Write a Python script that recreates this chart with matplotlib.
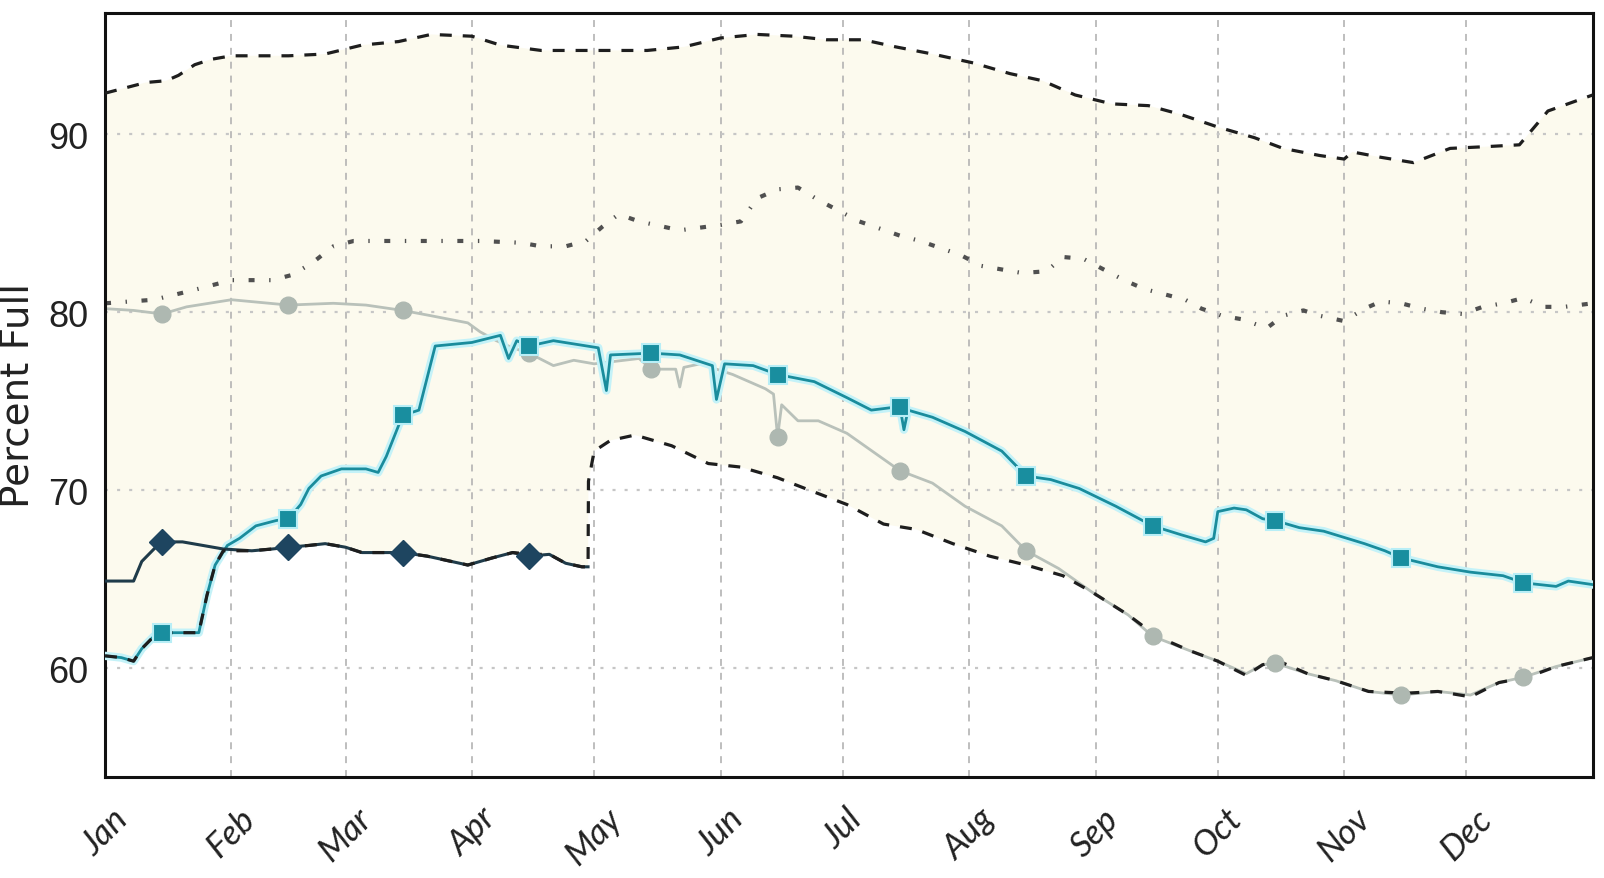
import numpy as np
import matplotlib
matplotlib.use("Agg")
import matplotlib.pyplot as plt

plt.rcParams["lines.scale_dashes"] = False

MONTH_DAYS = [0, 31, 59, 90, 120, 151, 181, 212, 243, 273, 304, 334]
MONTH_LABELS = ["Jan", "Feb", "Mar", "Apr", "May", "Jun", "Jul", "Aug", "Sep", "Oct", "Nov", "Dec"]
MID_MONTH = [14, 45, 73, 104, 134, 165, 195, 226, 257, 287, 318, 348]
Y_TICKS = [60, 70, 80, 90]

# historical maximum (day of year, percent full)
max_days = [0, 10, 15, 18, 22, 26, 31, 36, 45, 54, 63, 72, 80, 90, 97, 107, 115, 124, 133, 142,
            151, 160, 169, 177, 186, 194, 203, 213, 222, 230, 238, 247, 256, 264, 273, 282, 289,
            298, 304, 306, 313, 321, 330, 339, 347, 354, 365]
max_vals = [92.3, 92.9, 93.0, 93.3, 93.9, 94.2, 94.4, 94.4, 94.4, 94.5, 95.0, 95.2, 95.6, 95.5, 95.0,
            94.7, 94.7, 94.7, 94.7, 94.9, 95.4, 95.6, 95.5, 95.3, 95.3, 94.9, 94.5, 94.0, 93.4, 93.0,
            92.2, 91.7, 91.6, 91.1, 90.4, 89.8, 89.2, 88.8, 88.6, 89.0, 88.7, 88.4, 89.2, 89.3, 89.4,
            91.3, 92.2]

# historical average
avg_days = [0, 12, 21, 31, 41, 46, 51, 56, 61, 71, 81, 92, 102, 107, 113, 118, 122, 126, 131, 141,
            151, 156, 160, 165, 170, 175, 180, 185, 190, 195, 200, 210, 215, 220, 225, 231, 235, 240,
            245, 250, 255, 260, 265, 269, 274, 279, 285, 289, 294, 298, 304, 309, 313, 318, 323, 328,
            333, 338, 343, 348, 353, 358, 365]
avg_vals = [80.5, 80.7, 81.2, 81.8, 81.8, 82.1, 82.8, 83.7, 84.0, 84.0, 84.0, 84.0, 83.9, 83.7, 83.7,
            84.0, 84.8, 85.5, 85.1, 84.6, 84.9, 85.1, 86.4, 86.9, 87.0, 86.3, 85.7, 85.1, 84.7, 84.3,
            84.0, 83.2, 82.6, 82.4, 82.2, 82.3, 83.1, 83.0, 82.4, 81.8, 81.3, 81.0, 80.7, 80.2, 79.8,
            79.6, 79.1, 79.8, 80.1, 79.8, 79.5, 80.2, 80.6, 80.5, 80.2, 80.0, 79.9, 80.3, 80.5, 80.8,
            80.3, 80.3, 80.5]

# historical minimum
min_days = [0, 4, 7, 9, 12, 14, 23, 25, 27, 29, 36, 41, 45, 50, 54, 59, 63, 68, 73, 79, 85, 89, 92,
            95, 100, 105, 109, 113, 117, 118.5, 118.6, 120, 124, 130, 139, 148, 156, 165, 174, 182,
            191, 199, 208, 217, 226, 235, 242, 251, 258, 266, 273, 280, 284, 288, 292, 295, 302, 310,
            319, 327, 335, 342, 349, 356, 365]
min_vals = [60.7, 60.6, 60.4, 61.1, 61.8, 62.0, 62.0, 64.1, 65.8, 66.6, 66.6, 66.7, 66.8, 66.9, 67.0,
            66.8, 66.5, 66.5, 66.5, 66.3, 66.0, 65.8, 66.0, 66.2, 66.5, 66.4, 66.4, 65.9, 65.7, 65.7,
            70.5, 72.2, 72.8, 73.1, 72.5, 71.5, 71.3, 70.7, 69.9, 69.2, 68.1, 67.8, 67.0, 66.3, 65.8,
            65.2, 64.3, 63.0, 61.8, 61.0, 60.4, 59.6, 60.2, 60.4, 60.0, 59.7, 59.3, 58.7, 58.6, 58.7,
            58.4, 59.2, 59.5, 60.1, 60.6]

# gray year (circles)
gray_days = [0, 7, 14, 20, 31, 45, 56, 64, 73, 80, 89, 92, 96, 100, 104, 110, 115, 120, 131, 134,
             140, 141, 142, 146, 154, 162, 164, 165, 166, 170, 175, 182, 195, 203, 211, 220, 226,
             234, 242, 251, 257, 266, 273, 280, 284, 287, 295, 302, 310, 318, 327, 335, 342, 348,
             356, 365]
gray_vals = [80.2, 80.1, 79.9, 80.3, 80.7, 80.4, 80.5, 80.4, 80.1, 79.8, 79.4, 78.9, 78.4, 78.0, 77.7,
             77.0, 77.3, 77.1, 77.4, 76.8, 76.8, 75.8, 76.9, 77.1, 76.5, 75.7, 75.4, 73.0, 74.8, 73.9,
             73.9, 73.2, 71.1, 70.4, 69.1, 68.0, 66.6, 65.6, 64.3, 63.0, 61.8, 61.0, 60.4, 59.7, 60.2,
             60.3, 59.7, 59.3, 58.7, 58.5, 58.7, 58.5, 59.2, 59.5, 60.1, 60.6]

# teal year (squares)
teal_days = [0, 4, 7, 9, 12, 14, 19, 23, 25, 27, 30, 33, 37, 42, 45, 48, 50, 53, 58, 64, 67, 69, 73,
             77, 79, 81, 90, 97, 99, 101, 104, 110, 121, 123, 124, 134, 141, 149, 150, 152, 159, 165,
             174, 182, 188, 195, 196, 197, 203, 211, 220, 226, 232, 239, 248, 257, 264, 270, 272,
             273, 277, 280, 284, 287, 293, 299, 309, 314, 318, 327, 335, 343, 348, 356, 359, 365]
teal_vals = [60.7, 60.6, 60.4, 61.1, 61.8, 62.0, 62.0, 62.0, 64.1, 65.8, 66.9, 67.3, 68.0, 68.3, 68.4,
             69.2, 70.1, 70.8, 71.2, 71.2, 71.0, 71.9, 74.2, 74.5, 76.3, 78.1, 78.3, 78.7, 77.4, 78.4,
             78.1, 78.4, 78.0, 75.6, 77.6, 77.7, 77.6, 77.0, 75.1, 77.1, 77.0, 76.5, 76.1, 75.2, 74.5,
             74.7, 73.4, 74.5, 74.1, 73.3, 72.2, 70.8, 70.6, 70.1, 69.1, 68.0, 67.5, 67.1, 67.3, 68.8,
             69.0, 68.9, 68.4, 68.3, 67.9, 67.7, 67.0, 66.6, 66.2, 65.7, 65.4, 65.2, 64.8, 64.6, 64.9,
             64.7]

# current year (diamonds), data ends late April
navy_days = [0, 7, 9, 12, 14, 19, 24, 29, 36, 41, 45, 50, 54, 59, 63, 68, 73, 79, 85, 89, 92, 95,
             100, 104, 109, 113, 117, 118.5]
navy_vals = [64.9, 64.9, 66.0, 66.7, 67.1, 67.1, 66.9, 66.7, 66.6, 66.7, 66.8, 66.9, 67.0, 66.8, 66.5,
             66.5, 66.5, 66.3, 66.0, 65.8, 66.0, 66.2, 66.5, 66.3, 66.4, 65.9, 65.7, 65.7]


def mid_month_mask(days):
    return [d in MID_MONTH for d in days]


fig = plt.figure(figsize=(16.04, 8.79), dpi=100)
ax = fig.add_axes([0.0655, 0.115, 0.9275, 0.869])

# band between historical max and min
ax.fill(list(max_days) + list(min_days)[::-1], list(max_vals) + list(min_vals)[::-1],
        color="#fcfaee", lw=0, zorder=0.2)

ax.plot(avg_days, avg_vals, color="#505050", lw=3.0, dashes=(4.3, 10.5, 1.0, 10.5), zorder=2)

ax.plot(gray_days, gray_vals, color="#b9c1ba", lw=2.0, zorder=2.5)
ax.plot(teal_days, teal_vals, color="#c4f2f8", lw=6, solid_capstyle="round", zorder=2.6)
ax.plot(teal_days, teal_vals, color="#1a8c9c", lw=2.0, zorder=2.7)
ax.plot(navy_days, navy_vals, color="#1f3b4a", lw=2.2, zorder=2.8)

ax.plot(max_days, max_vals, color="#1e1e1e", lw=2.3, dashes=(8.6, 7.9), zorder=3)
ax.plot(min_days, min_vals, color="#1e1e1e", lw=2.3, dashes=(8.6, 7.9), zorder=3)

ax.plot(gray_days, gray_vals, ls="none", marker="o", ms=12, color="#aeb8b1",
        markevery=mid_month_mask(gray_days), zorder=4)
ax.plot(teal_days, teal_vals, ls="none", marker="s", ms=13.5, color="#198e9f",
        markeredgecolor="#b8eef6", mew=1.5, markevery=mid_month_mask(teal_days), zorder=4)
ax.plot(navy_days, navy_vals, ls="none", marker="D", ms=13.5, color="#1e4560",
        markeredgecolor="#1e4560", markevery=mid_month_mask(navy_days), zorder=4)

ax.set_xlim(0, 365)
ax.set_ylim(53.9, 96.8)

ax.set_axisbelow(True)
ax.set_xticks(MONTH_DAYS)
ax.set_xticklabels(MONTH_LABELS, rotation=45, ha="center", fontsize=25,
                   family=["Lato", "DejaVu Sans"], style="italic")
ax.set_yticks(Y_TICKS)
ax.set_yticklabels([str(v) for v in Y_TICKS], fontsize=26,
                   family=["Liberation Sans Narrow", "Liberation Sans", "DejaVu Sans"])
ax.tick_params(axis="both", length=0, colors="#222222")
ax.tick_params(axis="x", pad=18)
ax.tick_params(axis="y", pad=12)

ax.xaxis.grid(True, color="#b3b3b3", lw=1.2, dashes=(5, 5))
ax.yaxis.grid(True, color="#c6c6c6", lw=1.6, dashes=(2.2, 6.5))

for s in ax.spines.values():
    s.set_linewidth(2.2)
    s.set_color("#111111")

ax.set_ylabel("Percent Full", fontsize=28, family=["DejaVu Sans"], color="#222222")
ax.yaxis.set_label_coords(-0.046, 0.5)

fig.savefig("out.png", dpi=100)
